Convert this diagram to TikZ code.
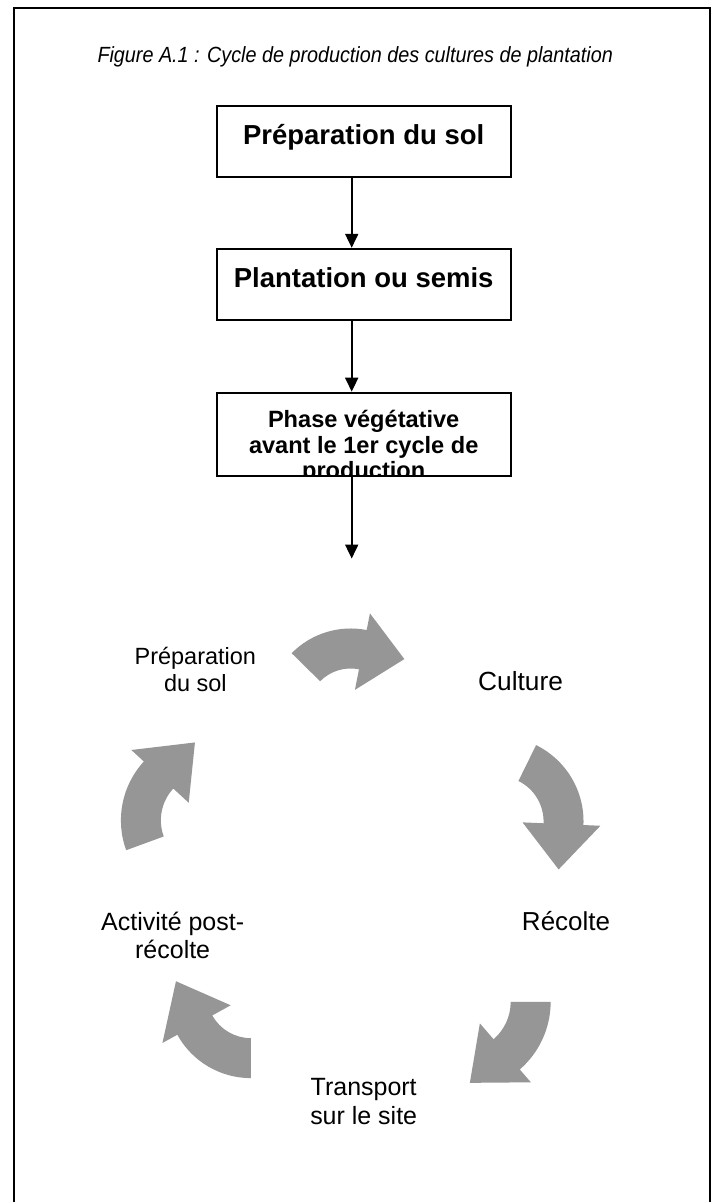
\documentclass[tikz,border=0pt]{standalone}
\usepackage{fontspec}
\setmainfont{Liberation Sans}
\newfontfamily\captionfont[FakeStretch=0.9]{Liberation Sans}
\usepackage{tikz}
\usetikzlibrary{arrows.meta, positioning, calc}
\definecolor{cyclegray}{RGB}{150,150,150}

% curved block arrow: centre, mid radius, tail angle, head angle, tip angle
\newcommand{\cyclearrow}[5]{%
  \fill[cyclegray, shift={(#1)}]
    ({#3}:{#2+20}) arc[start angle={#3}, end angle={#4}, radius={#2+20}]
    -- ({#4}:{#2+37}) -- ({#5}:{#2+12}) -- ({#4}:{#2-41})
    -- ({#4}:{#2-20}) arc[start angle={#4}, end angle={#3}, radius={#2-20}] -- cycle;}

\begin{document}
\begin{tikzpicture}[x=1pt, y=1pt,
    box/.style={draw, line width=2pt, minimum width=294pt, minimum height=71pt,
      inner sep=0pt, font=\bfseries\fontsize{27.5}{30}\selectfont,
      text height=20pt, text depth=13pt},
    flow/.style={line width=1.8pt, -{Triangle[width=13pt,length=14pt]}},
    stage/.style={align=center, inner sep=0pt, font=\fontsize{25}{28.5}\selectfont}]
  \fill[white] (0,0) rectangle (716,-1203);
  \draw[line width=2pt] (14.5,-1203) -- (14.5,-8) -- (711,-8) -- (711,-1203);

  \node[anchor=base, font=\captionfont\itshape\fontsize{22}{26}\selectfont] (title) at (355.5,-63)
    {Figure A.1 : Cycle de production des cultures de plantation};

  % linear part
  \node[box] (prep) at (364,-141.5) {Préparation du sol};
  \node[box] (plant) at (364,-284.5) {Plantation ou semis};
  \node[box, minimum height=83pt] (veg) at (364,-434.5) {};
  \begin{scope}
    \clip (veg.south west) rectangle (veg.north east);
    \node[anchor=north, align=center, inner sep=0pt,
      font=\bfseries\fontsize{23.6}{25.5}\selectfont] (vegtext) at (364,-410.5)
      {Phase végétative\\avant le 1er cycle de\\production};
  \end{scope}

  \coordinate (axis) at (352,0);
  \coordinate (cycletop) at (352,-559);
  \draw[flow] (prep.south -| axis) -- (plant.north -| axis);
  \draw[flow] (plant.south -| axis) -- (veg.north -| axis);
  \draw[flow] (veg.south -| axis) -- (cycletop);

  % cycle
  \node[stage, font=\fontsize{23.5}{26.5}\selectfont] (sol) at (195.5,-670) {Préparation\\du sol};
  \node[stage, font=\fontsize{26.3}{30}\selectfont] (culture) at (521,-681.7) {Culture};
  \node[stage, font=\fontsize{26}{30}\selectfont] (recolte) at (566.5,-921.7) {Récolte};
  \node[stage] (postrecolte) at (172.8,-936) {Activité post-\\récolte};
  \node[stage] (transport) at (364,-1102.3) {Transport\\sur le site};

  \cyclearrow{351,-712}{63}{135.4}{78.9}{44.3}
  \cyclearrow{499,-822}{65}{63.8}{-2.5}{-38.7}
  \cyclearrow{461.6,-1002.7}{69.5}{0}{-49.1}{-83.9}
  \cyclearrow{251,-995}{64}{-90}{-151.1}{-189.8}
  \cyclearrow{208,-821}{67}{200.1}{137.4}{99.4}
\end{tikzpicture}
\end{document}
